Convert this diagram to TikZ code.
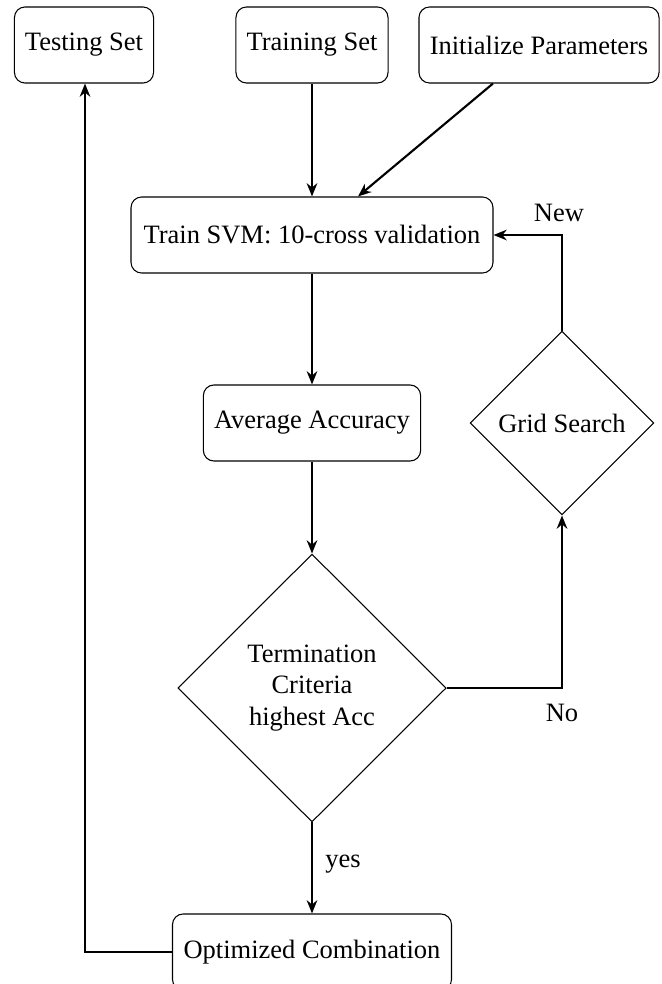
\documentclass[tikz,border=0pt]{standalone}
\usepackage{fontspec}
\setmainfont{Liberation Serif}
\usetikzlibrary{shapes.geometric,arrows.meta}
\begin{document}
\begin{tikzpicture}[x=0.3774pt,y=-0.3774pt,
  box/.style={draw,rounded corners=4pt,minimum height=28.7pt,inner sep=3pt,font=\fontsize{10}{12}\selectfont},
  dec/.style={draw,diamond,inner sep=0pt,aspect=1,align=center,font=\fontsize{10}{12}\selectfont},
  conn/.style={thick,-{Stealth[length=5pt,width=4pt]}},
  lbl/.style={font=\fontsize{10}{12}\selectfont}]
\useasboundingbox (0,0) rectangle (661,984);
\clip (0,0) rectangle (661,984);
\node[box,minimum width=52.5pt] (test) at (84,45) {Testing Set};
\node[box,minimum width=57.4pt] (trainset) at (312,45) {Training Set};
\node[box,minimum width=90.6pt] (init) at (539,45) {Initialize Parameters};
\node[box,minimum width=136.6pt] (svm) at (312,235) {Train SVM: 10-cross validation};
\node[box,minimum width=82pt] (avg) at (312,423) {Average Accuracy};
\node[dec,minimum width=69.4pt,minimum height=69.4pt] (grid) at (562,423) {Grid Search};
\node[dec,minimum width=101.3pt,minimum height=101.1pt] (term) at (312,688) {Termination\\Criteria\\highest Acc};
\node[box,minimum width=105.3pt] (opt) at (312,952) {Optimized Combination};
\draw[conn] (trainset) -- (svm);
\draw[conn] (init) -- (svm);
\draw[conn] (svm) -- (avg);
\draw[conn] (avg) -- (term);
\draw[conn] (term.east) -| (grid.south);
\draw[conn] (grid.north) |- (svm.east);
\draw[conn] (term.south) -- (opt.north);
\coordinate (lc) at (85,952);
\draw[conn] (opt.west) -- (lc) -- (test.south -| lc);
\node[lbl] (new) at (559,213) {New};
\node[lbl] (no) at (562,713) {No};
\node[lbl] (yes) at (343,864) {yes};
\end{tikzpicture}
\end{document}
